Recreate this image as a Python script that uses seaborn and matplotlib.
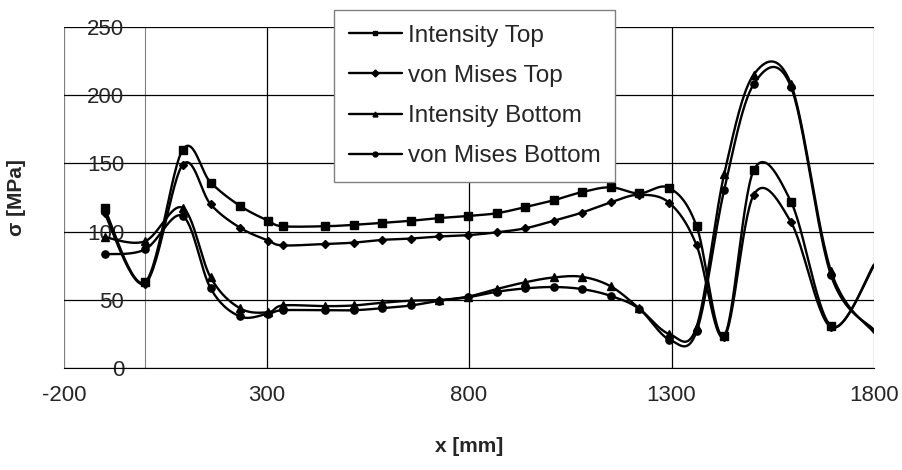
import numpy as np
import pandas as pd
import matplotlib
matplotlib.use('Agg')
import matplotlib.pyplot as plt
from matplotlib.lines import Line2D
import seaborn as sns

# Values
x_mm = [-100, 0, 93, 162, 234, 304, 340, 445, 515, 586, 657, 727, 798, 868,
        939, 1009, 1079, 1150, 1220, 1295, 1362, 1430, 1503, 1595, 1694, 1800]
intensity_top = [117, 63, 160, 136, 119, 108, 104, 104, 105, 106.5, 108, 110, 111.5, 113.5,
                 118, 123, 129, 132.5, 128, 132, 104, 24, 145, 122, 31, 76]
von_mises_top = [113.5, 62, 149, 120, 103, 93.5, 90, 91, 92, 94, 95, 96.5, 97.5, 99.5,
                 102.5, 108, 114, 121.5, 127, 121, 90, 23, 127, 107, 30, 75]
intensity_bottom = [96, 93, 117.5, 66.5, 44, 41, 46, 45.5, 46, 48, 49.5, 50, 52.5, 58,
                    63, 66.5, 67, 60, 44, 25, 30.5, 142, 215, 208, 71, 26]
von_mises_bottom = [83.5, 87, 111.5, 58.5, 38, 40, 42.5, 42.5, 42.5, 44, 46, 49.5, 52, 56,
                    58.5, 59.5, 58, 53, 43.5, 21, 27, 130.5, 208, 206, 68, 28]

series_names = ['Intensity Top', 'von Mises Top', 'Intensity Bottom', 'von Mises Bottom']
series_values = [intensity_top, von_mises_top, intensity_bottom, von_mises_bottom]
series_markers = ['s', 'D', '^', 'o']
x_ticks = [-200, 300, 800, 1300, 1800]
y_ticks = [0, 50, 100, 150, 200, 250]


def smooth(xs, ys, n=30):
    # Excel-like smoothed line (Bezier through the points)
    P = np.column_stack([xs, ys]).astype(float)
    P = np.vstack([P[0], P, P[-1]])
    t = np.linspace(0, 1, n)[:, None]
    out = []
    for i in range(1, len(P) - 2):
        p0, p1, p2, p3 = P[i - 1], P[i], P[i + 1], P[i + 2]
        b1 = p1 + (p2 - p0) / 6
        b2 = p2 - (p3 - p1) / 6
        seg = (1 - t) ** 3 * p1 + 3 * (1 - t) ** 2 * t * b1 + 3 * (1 - t) * t ** 2 * b2 + t ** 3 * p2
        out.append(seg if i == 1 else seg[1:])
    c = np.vstack(out)
    return c[:, 0], c[:, 1]


sns.set_style('white')
plt.rcParams['font.family'] = ['Liberation Sans', 'DejaVu Sans']
plt.rcParams['axes.unicode_minus'] = False

W, H = 903, 470
fig = plt.figure(figsize=(W / 100, H / 100), dpi=100)
ax = fig.add_axes([64 / W, 1 - 368.3 / H, (874 - 64) / W, (368.3 - 26.8) / H])

handles = []
for name, vals, mk in zip(series_names, series_values, series_markers):
    cx, cy = smooth(x_mm, vals)
    sns.lineplot(x=cx, y=cy, sort=False, estimator=None, color='black', lw=1.7, ax=ax)
    ms = 5.2 if mk != 'D' else 4.4
    # the last point sits on the plot edge, where the reference shows no marker
    ax.plot(x_mm[:-1], vals[:-1], ls='none', marker=mk, ms=ms, color='black')
    handles.append(Line2D([], [], color='black', lw=1.7, marker=mk, ms=3.5))

ax.set_xlim(-200, 1800)
ax.set_ylim(0, 250)
ax.set_xticks(x_ticks)
ax.set_yticks(y_ticks)
ax.grid(True, color='black', lw=0.9)
for i, gl in enumerate(ax.get_xgridlines()):
    if i in (0, len(x_ticks) - 1):
        gl.set_color('#808080')

ax.spines['left'].set_position(('data', 0))
ax.spines['left'].set_color('#808080')
ax.spines['left'].set_zorder(0.5)
ax.spines['top'].set_visible(False)
ax.spines['right'].set_visible(False)
ax.spines['bottom'].set_color('black')
ax.tick_params(axis='y', direction='out', length=5, width=0.9, color='#808080', pad=10, labelsize=16)
ax.tick_params(axis='x', direction='out', length=6, width=0.9, color='#808080', pad=6, labelsize=16)
ax.set_xlabel('')
ax.set_ylabel('')

fig.text(17 / W, 1 - 197.5 / H, 'σ [MPa]', rotation=90, ha='center', va='center',
         fontsize=15, fontweight='bold')
fig.text(469 / W, 1 - 447 / H, 'x [mm]', ha='center', va='center',
         fontsize=15, fontweight='bold')

leg = ax.legend(handles, series_names, loc='upper left', bbox_to_anchor=(334 / W, 1 - 10 / H),
                bbox_transform=fig.transFigure, frameon=True, fancybox=False, shadow=False,
                edgecolor='#808080', framealpha=1, borderaxespad=0, fontsize=17.5,
                handlelength=2.2, handletextpad=0.25, labelspacing=0.75, borderpad=0.6)
leg.get_frame().set_linewidth(1.0)
leg.set_zorder(10)

fig.savefig('out.png', dpi=100)
